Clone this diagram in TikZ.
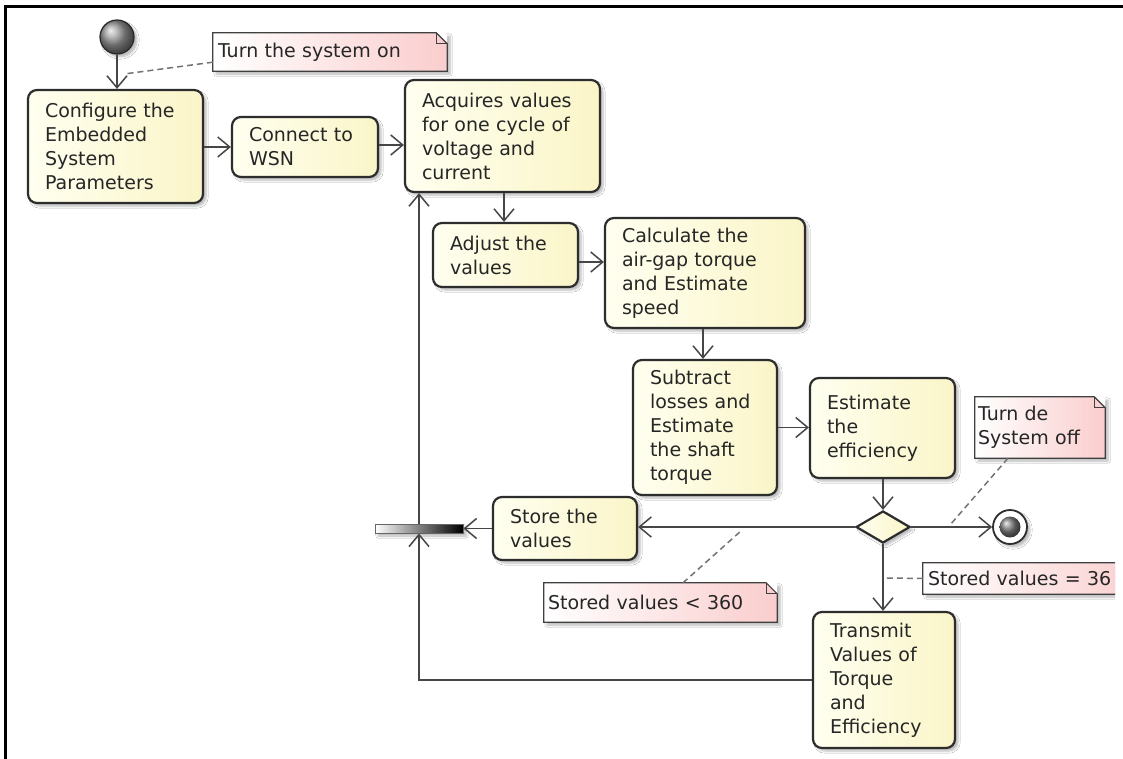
\documentclass[tikz,border=0pt]{standalone}
\usepackage{fontspec}
\setmainfont{DejaVu Sans}
\usetikzlibrary{arrows.meta,shapes.geometric,shadows.blur}
\definecolor{boxL}{RGB}{255,255,240}
\definecolor{boxR}{RGB}{250,245,200}
\definecolor{noteR}{RGB}{250,205,205}
\definecolor{edgec}{RGB}{45,45,45}
\definecolor{wire}{RGB}{70,70,70}
\newcommand\drawnote[1]{%
  \fill[white] ([xshift=-11pt]#1.north east) -- (#1.north east) -- ([yshift=-11pt]#1.north east) -- cycle;
  \draw[noteline] (#1.north west) -- ([xshift=-11pt]#1.north east) -- ([yshift=-11pt]#1.north east) -- (#1.south east) -- (#1.south west) -- cycle;
  \draw[noteline] ([xshift=-11pt]#1.north east) |- ([yshift=-11pt]#1.north east);}
\begin{document}
\begin{tikzpicture}[x=1pt,y=-1pt,
  font=\fontsize{19}{24}\selectfont,
  shad/.style={blur shadow={shadow xshift=3pt, shadow yshift=-3pt, shadow blur steps=6, shadow opacity=28}},
  act/.style={shad, draw=edgec, line width=2.2pt, rounded corners=9pt, left color=boxL, right color=boxR,
    align=left, inner xsep=17pt, inner ysep=0pt, text=black!85},
  note/.style={shad, inner xsep=5pt, inner ysep=0pt, align=left, left color=white, right color=noteR, text=black!85},
  noteline/.style={draw=black!75, line width=1.2pt},
  flow/.style={draw=wire, line width=1.5pt, -{Straight Barb[length=12pt,width=20pt,line width=1.5pt]}},
  dashy/.style={draw=black!55, line width=1.5pt, dash pattern=on 6pt off 4pt},
  startn/.style={circle, minimum size=34pt, inner sep=0pt, draw=black!85, line width=1.2pt, ball color=black!40, shad},
  endo/.style={circle, minimum size=34pt, inner sep=0pt, draw=edgec, line width=1.8pt, fill=white, shad},
  endi/.style={circle, minimum size=21pt, inner sep=0pt, ball color=black!50},
  dec/.style={diamond, aspect=1.7, minimum width=54pt, minimum height=32pt, inner sep=0pt, draw=edgec, line width=2.2pt, left color=boxL, right color=boxR, shad},
  barn/.style={rectangle, minimum width=88pt, minimum height=9pt, inner sep=0pt, draw=black!60, line width=0.8pt, left color=white, middle color=white, right color=black, shad}
]
\useasboundingbox (0,0) rectangle (1123,758);
\fill[white] (-10,-10) rectangle (1140,770);
\draw[line width=3pt] (5,770) -- (5,6) -- (1140,6);

% activity nodes
\node[startn] (start) at (117,37) {};
\node[act, text width=141pt, minimum height=113pt] (conf) at (115.5,146.5) {Configure the\\Embedded\\System\\Parameters};
\node[act, text width=112pt, minimum height=60pt] (wsn) at (305,147) {Connect to\\WSN};
\node[act, text width=161pt, minimum height=112pt] (acq) at (502.5,136) {Acquires values\\for one cycle of\\voltage and\\current};
\node[act, text width=111pt, minimum height=64pt] (adj) at (505.5,255) {Adjust the\\values};
\node[act, text width=166pt, minimum height=110pt] (calc) at (705,273) {Calculate the\\air-gap torque\\and Estimate\\speed};
\node[act, text width=110pt, minimum height=135pt] (sub) at (705,427.5) {Subtract\\losses and\\Estimate\\the shaft\\torque};
\node[act, text width=111pt, minimum height=100pt] (eff) at (882.5,428) {Estimate\\the\\efficiency};
\node[dec] (dec) at (883,527) {};
\node[endo] (end) at (1010,527) {};
\node[endi] (endin) at (1010,527) {};
\node[act, text width=110pt, minimum height=63pt] (store) at (565,528.5) {Store the\\values};
\node[barn] (bar) at (419,528.5) {};
\node[act, text width=108pt, minimum height=136pt] (trans) at (884,680) {Transmit\\Values of\\Torque\\and\\Efficiency};

% flows
\draw[flow] (start.south) -- (start.south |- conf.north);
\draw[flow] (conf.east |- wsn.west) -- (wsn.west);
\draw[flow] ([yshift=2pt]wsn.east) -- ([yshift=2pt]wsn.east -| acq.west);
\draw[flow] ([xshift=-1.5pt]adj.north |- acq.south) -- ([xshift=-1.5pt]adj.north);
\draw[flow] ([yshift=-7pt]adj.east) -- ([yshift=-7pt]adj.east -| calc.west);
\draw[flow] ([xshift=-2pt]calc.south) -- ([xshift=-2pt]calc.south |- sub.north);
\draw[flow] (sub.east) -- (sub.east -| eff.west);
\draw[flow] (eff.south -| dec.north) -- (dec.north);
\draw[flow] (dec.east) -- (end.west);
\draw[flow] (dec.west) -- (dec.west -| store.east);
\draw[flow] (dec.south) -- (dec.south |- trans.north);
\draw[flow] (store.west |- bar.east) -- (bar.east);
\draw[flow] (bar.north) -- (bar.north |- acq.south);
\draw[flow] (trans.west) -| (bar.south);

% notes
\coordinate (c1) at (124,74);
\coordinate (c2) at (950,525);
\coordinate (c3) at (742,530);
\coordinate (c4) at (885,578);

\node[note, text width=224pt, minimum height=38pt] (n1) at (330,52) {Turn the system on};
\drawnote{n1}
\draw[dashy] ([yshift=9pt]n1.south west) -- (c1);

\node[note, inner xsep=3pt, text width=124pt, minimum height=61pt] (n2) at (1040,427.5) {Turn de\\System off};
\drawnote{n2}
\draw[dashy] ([xshift=-32pt]n2.south) -- (c2);

\node[note, inner xsep=4pt, text width=225pt, minimum height=39pt] (n3) at (660.5,602.5) {Stored values < 360};
\drawnote{n3}
\draw[dashy] ([xshift=22.5pt]n3.north) -- (c3);

\begin{scope}
\clip (0,0) rectangle (1115,758);
\node[note, text width=217pt, minimum height=31pt] (n4) at (1036.5,578.5) {Stored values = 36};
\drawnote{n4}
\end{scope}
\draw[dashy] (n4.west) -- (c4);
\end{tikzpicture}
\end{document}
